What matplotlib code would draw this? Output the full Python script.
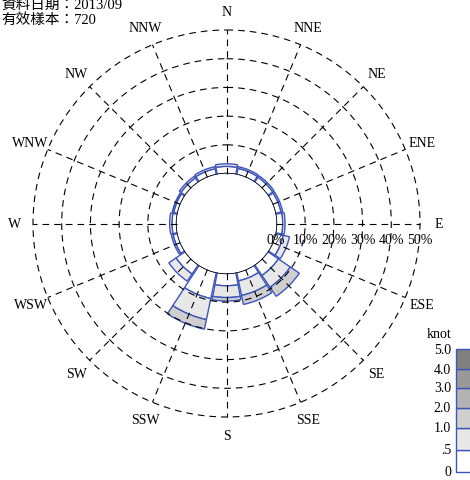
import numpy as np
import matplotlib
matplotlib.use("Agg")
import matplotlib.pyplot as plt
from matplotlib.patches import Rectangle

# Wind directions (16 points) and speed classes (knot)
directions = ["N", "NNE", "NE", "ENE", "E", "ESE", "SE", "SSE",
              "S", "SSW", "SW", "WSW", "W", "WNW", "NW", "NNW"]
speed_labels = ["0", ".5", "1.0", "2.0", "3.0", "4.0", "5.0"]
class_colors = ["#ffffff", "#e8e8e8", "#cfcfcf", "#b3b3b3", "#999999", "#808080"]

# Frequency (%) per speed class, per direction
freq_0_05 = [2.5, 2.2, 2.1, 2.0, 2.2, 2.8, 4.5, 3.0, 4.3, 9.3, 3.9, 1.6, 1.6, 1.4, 1.8, 2.1]
freq_05_1 = [0.9, 0.6, 0.6, 0.6, 0.8, 2.2, 5.0, 5.2, 4.1, 7.5, 3.0, 0.6, 0.8, 0.5, 0.7, 0.7]
freq_1_2 = [0, 0, 0, 0, 0, 0, 3.8, 3.2, 1.2, 3.4, 0, 0, 0, 0, 0, 0]
freq_2_3 = [0] * 16
freq_3_4 = [0] * 16
freq_4_5 = [0] * 16
classes = [freq_0_05, freq_05_1, freq_1_2, freq_2_3, freq_3_4, freq_4_5]

rings = [10, 20, 30, 40, 50]
ring_labels = ["0%", "10%", "20%", "30%", "40%", "50%"]

date_text = "資料日期：2013/09"
sample_text = "有效樣本：720"

blue = "#3f55b8"
serif = ["Liberation Serif", "Noto Sans CJK TC"]
W, H = 470, 481

fig = plt.figure(figsize=(4.7, 4.81), dpi=100)
cx, cy, R = 226.5, 224.5, 193.5
ax = fig.add_axes([(cx - R) / W, (H - cy - R) / H, 2 * R / W, 2 * R / H],
                  projection="polar")
ax.set_theta_zero_location("N")
ax.set_theta_direction(-1)
ax.set_ylim(0, 50)
ax.set_rorigin(-17.4)
ax.axis("off")

theta = np.deg2rad(np.arange(16) * 22.5)
width = np.deg2rad(22.5) * 0.95
bottom = np.zeros(16)
for vals, col in zip(classes, class_colors):
    vals = np.array(vals, dtype=float)
    mask = vals > 0
    ax.bar(theta[mask], vals[mask], width=width, bottom=bottom[mask],
           color=col, edgecolor=blue, linewidth=1.0, zorder=2)
    bottom += vals

# grid on top of the bars
dash = (0, (6, 4.5))
circ = np.linspace(0, 2 * np.pi, 400)
for r in rings:
    ax.plot(circ, np.full_like(circ, r), color="black", lw=0.8,
            linestyle=dash, zorder=3, clip_on=False)
for t in theta:
    ax.plot([t, t], [0, 50], color="black", lw=0.8,
            linestyle=dash, zorder=3, clip_on=False)
ax.plot(circ, np.zeros_like(circ), color="black", lw=1.0, zorder=4)

# direction labels on a circle just outside the 50% ring
r_lab = 212
for name, t in zip(directions, theta):
    px = cx + r_lab * np.sin(t)
    py = cy - r_lab * np.cos(t)
    fig.text(px / W, 1 - py / H, name, ha="center", va="center",
             fontsize=10, family=serif)

# percentage labels along the east axis
for i, lab in enumerate(ring_labels):
    r_px = 49.7 + 28.8 * i
    fig.text((cx + r_px) / W, 1 - 241 / H, lab, ha="center", va="center",
             fontsize=10, family=serif, zorder=5)

# header text
fig.text(1 / W, 1 - 10 / H, date_text, ha="left", va="baseline",
         fontsize=10.5, family=serif)
fig.text(1 / W, 1 - 24 / H, sample_text, ha="left", va="baseline",
         fontsize=10.5, family=serif)

# speed legend
edges_y = [473, 451, 429, 409, 389, 370, 350]
for i in range(6):
    y0, y1 = edges_y[i], edges_y[i + 1]
    fig.patches.append(Rectangle((456 / W, 1 - y0 / H), 20 / W, (y0 - y1) / H,
                                 transform=fig.transFigure, facecolor=class_colors[i],
                                 edgecolor=blue, linewidth=1.0))
for lab, y in zip(speed_labels, edges_y):
    fig.text(451 / W, 1 - y / H, lab, ha="right", va="center",
             fontsize=10, family=serif)
fig.text(439 / W, 1 - 334 / H, "knot", ha="center", va="center",
         fontsize=10, family=serif)

fig.savefig("out.png", dpi=100)
